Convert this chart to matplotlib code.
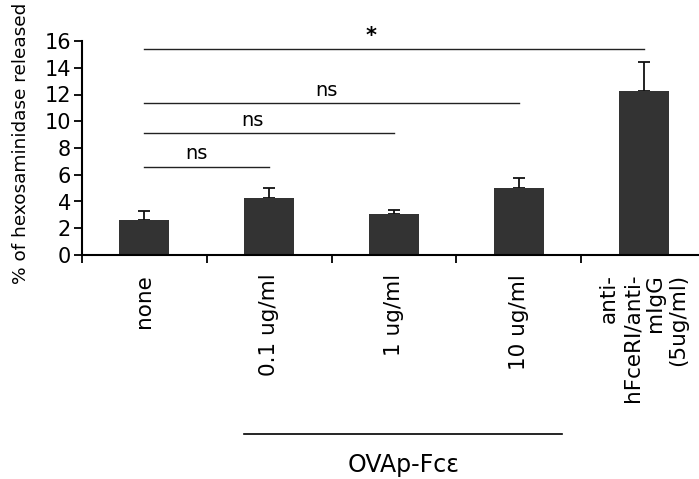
import numpy as np
import matplotlib
matplotlib.use("Agg")
import matplotlib.pyplot as plt
import matplotlib.transforms as mtransforms

# data
categories = ["none", "0.1 ug/ml", "1 ug/ml", "10 ug/ml",
              "anti-\nhFceRI/anti-\nmIgG\n(5ug/ml)"]
release = [2.6, 4.25, 3.03, 5.02, 12.24]
release_err = [0.7, 0.75, 0.32, 0.7, 2.16]

# significance comparisons: (from, to, height, label)
comparisons = [
    (0, 1, 6.6, "ns"),
    (0, 2, 9.1, "ns"),
    (0, 3, 11.35, "ns"),
    (0, 4, 15.4, "*"),
]
sig_label_x = [0.33, 0.78, 1.37, 1.77]

group_label = "OVAp-Fc\u03b5"
group_span = (1, 3)

plt.rcParams["font.family"] = "DejaVu Sans"

fig = plt.figure(figsize=(6.99, 4.79), dpi=100)
ax = fig.add_axes([82 / 699, 1 - 255 / 479, 624 / 699, 214 / 479])

x = np.arange(len(categories))
ax.bar(x, release, width=0.4, color="#333333", zorder=2)
ax.errorbar(x, release, yerr=[np.zeros(len(x)), release_err], fmt="none",
            ecolor="#111111", elinewidth=1.3, capsize=4.5, capthick=1.3, zorder=1)

ax.set_xlim(-0.5, len(categories) - 0.5)
ax.set_ylim(0, 16)
ax.set_yticks(range(0, 17, 2))
ax.set_xticks(x)
ax.set_xticklabels(categories, rotation=90, va="top", ha="center",
                   multialignment="right", fontsize=15.5)
ax.set_xticks(np.arange(-0.5, len(categories), 1), minor=True)
ax.tick_params(axis="x", which="major", length=0, pad=13.5)
ax.tick_params(axis="x", which="minor", length=6, width=1.3, direction="out")
ax.tick_params(axis="y", length=6, width=1.3, labelsize=15, pad=2)

ax.set_ylabel("% of hexosaminidase released", fontsize=13.3)
ax.yaxis.set_label_coords(-0.083, 0.52)

for side in ["top", "right"]:
    ax.spines[side].set_visible(False)
for side in ["left", "bottom"]:
    ax.spines[side].set_linewidth(1.5)

for (a, b, h, lab), lx in zip(comparisons, sig_label_x):
    ax.plot([a, b], [h, h], color="#222222", lw=1.0, clip_on=False)
    ax.text(lx, h + 0.25, lab, ha="left", va="bottom",
            fontsize=15 if lab == "*" else 14,
            fontweight="bold" if lab == "*" else "normal")

trans = mtransforms.blended_transform_factory(ax.transData, fig.transFigure)
ax.plot([group_span[0] - 0.2, group_span[1] + 0.35], [1 - 434 / 479] * 2,
        color="black", lw=1.2, transform=trans, clip_on=False)
ax.text((group_span[0] + group_span[1]) / 2 + 0.08, 1 - 465 / 479, group_label,
        transform=trans, ha="center", va="center", fontsize=17)

fig.savefig("out.png", dpi=100)
